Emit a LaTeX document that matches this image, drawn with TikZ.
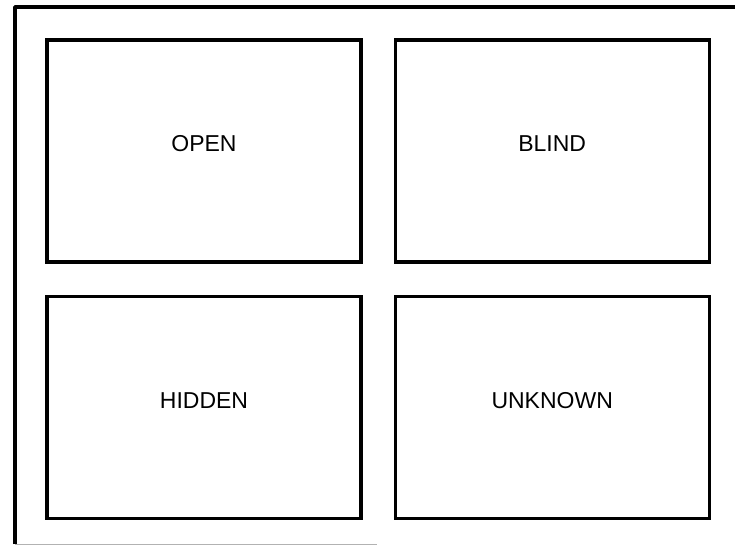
\documentclass[tikz,border=0pt]{standalone}
\usepackage{fontspec}
\setmainfont{Liberation Sans}
\usetikzlibrary{positioning}
\tikzset{
  pane/.style={draw=black,line width=3.2pt,minimum width=314pt,minimum height=222pt,inner sep=0pt},
  tag/.style={font=\fontsize{23}{26}\selectfont,inner sep=0pt}
}
\begin{document}
\begin{tikzpicture}[x=1pt,y=-1pt]
 \useasboundingbox (0,0) rectangle (735,546);
 % outer frame (open on the right)
 \coordinate (fr-tl) at (15,7);
 \coordinate (fr-tr) at (735,7);
 \coordinate (fr-bl) at (15,544);
 \coordinate (fr-br) at (377,544);
 \draw[line width=3.5pt,line join=round] (fr-bl)--(fr-tl)--(fr-tr);
 \draw[gray!60,line width=1pt] (fr-bl)--(fr-br);
 % the four panes
 \node[pane] (open) at (204,151) {};
 \node[pane,right=31pt of open] (blind) {};
 \node[pane,below=31pt of open] (hidden) {};
 \node[pane,right=31pt of hidden] (unknown) {};
 \foreach \p/\t in {open/OPEN,blind/BLIND,hidden/HIDDEN,unknown/UNKNOWN}
  \node[tag] (\p-tag) at ([yshift=7pt]\p.center) {\t};
\end{tikzpicture}
\end{document}
